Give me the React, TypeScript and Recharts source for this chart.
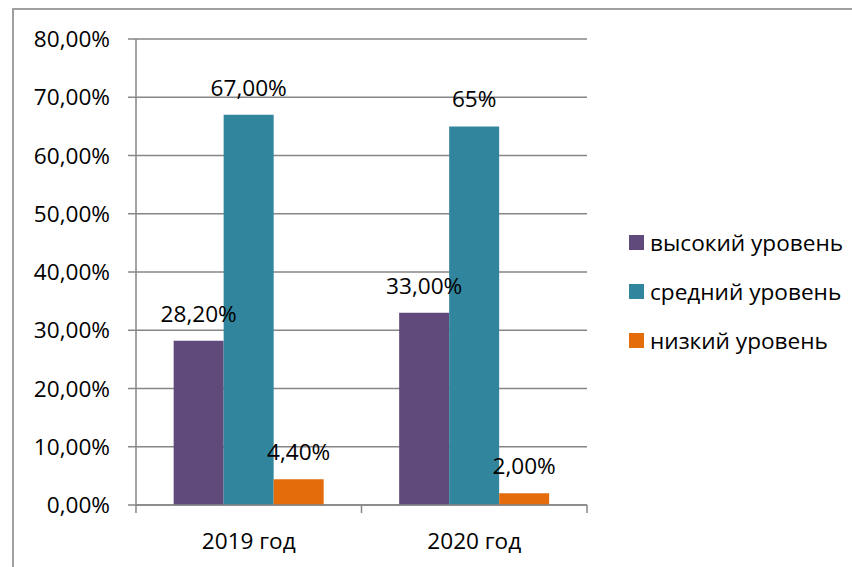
import React from 'react';
import { BarChart, Bar, XAxis, YAxis, CartesianGrid, LabelList } from 'recharts';

const categories = ['2019 год', '2020 год'];
const seriesNames = ['высокий уровень', 'средний уровень', 'низкий уровень'];
const seriesKeys = ['high', 'mid', 'low'];
const seriesColors = ['#604A7B', '#31859C', '#E46C0A'];
const highValues = [28.2, 33];
const midValues = [67, 65];
const lowValues = [4.4, 2];
const highLabels = ['28,20%', '33,00%'];
const midLabels = ['67,00%', '65%'];
const lowLabels = ['4,40%', '2,00%'];
const yTicks = [0, 10, 20, 30, 40, 50, 60, 70, 80];

const FONT = '"Open Sans", sans-serif';
const FONT_SIZE = 22.6;
const GRAY = '#868686';

const data = categories.map((name, i) => ({
  name,
  high: highValues[i],
  mid: midValues[i],
  low: lowValues[i],
}));

const labelSets = [highLabels, midLabels, lowLabels];

const formatPct = (v: number) => v.toFixed(2).replace('.', ',') + '%';

const makeLabel = (labels: string[]) => (props: any) => {
  const { x, y, width, index } = props;
  return (
    <text
      x={x + width / 2}
      y={y - 27}
      dy="0.35em"
      textAnchor="middle"
      fill="#000"
      fontSize={FONT_SIZE}
      fontFamily={FONT}
    >
      {labels[index]}
    </text>
  );
};

const CategoryTick = (props: any) => {
  const { x, y, payload, index, visibleTicksCount } = props;
  const half = payload && payload.offset ? payload.offset : 112.75;
  return (
    <g>
      <line x1={x - half} y1={y} x2={x - half} y2={y + 8} stroke={GRAY} strokeWidth={1.5} />
      {index === visibleTicksCount - 1 && (
        <line x1={x + half} y1={y} x2={x + half} y2={y + 8} stroke={GRAY} strokeWidth={1.5} />
      )}
      <text x={x} y={y + 36} dy="0.35em" textAnchor="middle" fill="#000" fontSize={FONT_SIZE} fontFamily={FONT}>
        {payload.value}
      </text>
    </g>
  );
};

const App = () => {
  return (
    <div
      style={{
        position: 'absolute',
        left: 0,
        top: 0,
        width: 852,
        height: 567,
        overflow: 'hidden',
        background: '#fff',
        fontFamily: FONT,
      }}
    >
      <div
        style={{
          position: 'absolute',
          left: 12,
          top: 8,
          width: 1000,
          height: 800,
          border: '2px solid #A0A0A0',
        }}
      />
      <div style={{ position: 'absolute', left: 0, top: 0 }}>
        <BarChart
          width={852}
          height={567}
          data={data}
          margin={{ top: 39, right: 265, bottom: 0, left: 0 }}
          barCategoryGap="16.7%"
          barGap={0}
        >
          <CartesianGrid vertical={false} stroke={GRAY} strokeWidth={1.5} />
          <XAxis
            dataKey="name"
            height={62}
            tickLine={false}
            tickSize={0}
            tickMargin={0}
            axisLine={{ stroke: GRAY, strokeWidth: 1.5 }}
            tick={<CategoryTick />}
            interval={0}
          />
          <YAxis
            width={136}
            domain={[0, 80]}
            ticks={yTicks}
            interval={0}
            tickFormatter={formatPct}
            tickSize={8}
            tickMargin={18}
            axisLine={{ stroke: GRAY, strokeWidth: 1.5 }}
            tickLine={{ stroke: GRAY, strokeWidth: 1.5 }}
            tick={{ fill: '#000', fontSize: FONT_SIZE, fontFamily: FONT }}
          />
          {seriesKeys.map((key, i) => (
            <Bar key={key} dataKey={key} name={seriesNames[i]} fill={seriesColors[i]} isAnimationActive={false}>
              <LabelList dataKey={key} content={makeLabel(labelSets[i])} />
            </Bar>
          ))}
        </BarChart>
      </div>
      <div style={{ position: 'absolute', left: 629, top: 218 }}>
        {seriesNames.map((name, i) => (
          <div key={name} style={{ display: 'flex', alignItems: 'center', height: 49 }}>
            <span
              style={{
                display: 'inline-block',
                width: 15,
                height: 15,
                background: seriesColors[i],
                marginRight: 6,
              }}
            />
            <span style={{ fontSize: FONT_SIZE, color: '#000', fontFamily: FONT, whiteSpace: 'nowrap' }}>{name}</span>
          </div>
        ))}
      </div>
    </div>
  );
};

export default App;
